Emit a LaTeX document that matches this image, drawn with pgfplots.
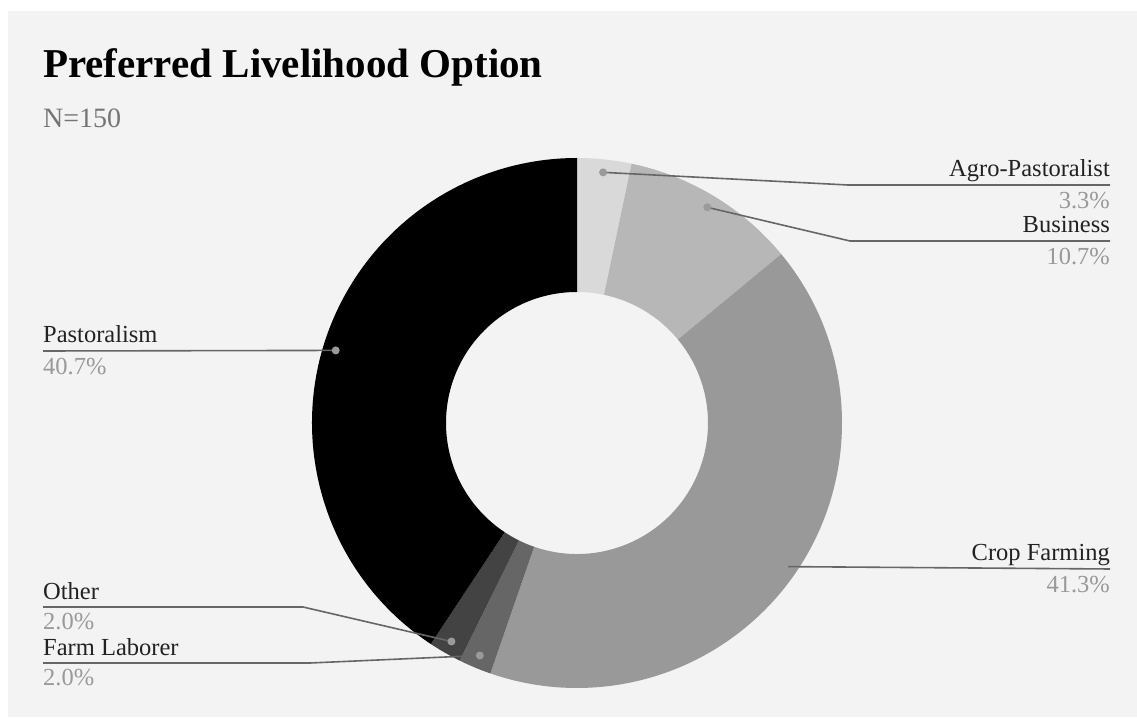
\documentclass[border=0pt]{standalone}
\usepackage{pgfplots}
\pgfplotsset{compat=1.18}
\usepackage{fontspec}
\setmainfont{Liberation Serif}
\definecolor{bg}{HTML}{F3F3F3}
\definecolor{cAgro}{HTML}{D9D9D9}
\definecolor{cBus}{HTML}{B7B7B7}
\definecolor{cCrop}{HTML}{999999}
\definecolor{cFarm}{HTML}{666666}
\definecolor{cOther}{HTML}{434343}
\definecolor{cPast}{HTML}{000000}
\definecolor{leadc}{HTML}{666666}
\definecolor{dotc}{HTML}{9A9A9A}
\definecolor{labc}{HTML}{222222}
\definecolor{pctc}{HTML}{999999}
\definecolor{subc}{HTML}{757575}
% #1 cumulative share before the slice (%), #2 share (%), #3 colour
\newcommand{\seg}[3]{%
  \fill[#3] ([shift={({90-3.6*(#1)}:265pt)}]C)
    arc[start angle={90-3.6*(#1)}, end angle={90-3.6*(#1+#2)}, radius=265pt]
    -- ([shift={({90-3.6*(#1+#2)}:131pt)}]C)
    arc[start angle={90-3.6*(#1+#2)}, end angle={90-3.6*(#1)}, radius=131pt]
    -- cycle;}
% #1 cumulative, #2 share, #3 bend point, #4 end point
\newcommand{\leader}[4]{%
  \draw[leadc, line width=1.6pt] ([shift={({90-3.6*(#1+0.5*#2)}:252pt)}]C)
    -- (axis cs:#3) -- (axis cs:#4);
  \fill[dotc] ([shift={({90-3.6*(#1+0.5*#2)}:252pt)}]C) circle[radius=4pt];}
\newcommand{\lab}[4]{% #1 x, #2 baseline y, #3 anchor, #4 text
  \node[anchor=#3, inner sep=0pt, text=labc, font=\fontsize{24.5}{28}\selectfont] at (axis cs:#1,#2) {#4};}
\newcommand{\pct}[4]{%
  \node[anchor=#3, inner sep=0pt, text=pctc, font=\fontsize{24.5}{28}\selectfont] at (axis cs:#1,#2) {#4};}
\begin{document}
\begin{tikzpicture}
\begin{axis}[
  x=1pt, y=1pt,
  xmin=0, xmax=1137, ymin=0, ymax=717,
  hide axis, clip=false,
]
\fill[white] (axis cs:0,0) rectangle (axis cs:1137,717);
\fill[bg] (axis cs:8,0) rectangle (axis cs:1137,706);
\coordinate (C) at (axis cs:577,294);
% slices: Agro-Pastoralist 3.3, Business 10.7, Crop Farming 41.3,
% Farm Laborer 2.0, Other 2.0, Pastoralism 40.7
\seg{0}{3.3}{cAgro}
\seg{3.3}{10.7}{cBus}
\seg{14.0}{41.3}{cCrop}
\seg{55.3}{2.0}{cFarm}
\seg{57.3}{2.0}{cOther}
\seg{59.3}{40.7}{cPast}
% leaders
\leader{0}{3.3}{848,532}{1110,532}
\leader{3.3}{10.7}{850,476}{1110,476}
\leader{14.0}{41.3}{1110,148}{1110,148}
\leader{55.3}{2.0}{310,54}{43,54}
\leader{57.3}{2.0}{303,110}{43,110}
\leader{59.3}{40.7}{43,366}{43,366}
% labels
\lab{1110}{540}{base east}{Agro-Pastoralist}
\pct{1110}{508}{base east}{3.3\%}
\lab{1110}{484}{base east}{Business}
\pct{1110}{452}{base east}{10.7\%}
\lab{1110}{156}{base east}{Crop Farming}
\pct{1110}{124}{base east}{41.3\%}
\lab{43}{374}{base west}{Pastoralism}
\pct{43}{342}{base west}{40.7\%}
\lab{43}{117}{base west}{Other}
\pct{43}{87}{base west}{2.0\%}
\lab{43}{61}{base west}{Farm Laborer}
\pct{43}{31}{base west}{2.0\%}
% title
\node[anchor=base west, inner sep=0pt, font=\fontsize{41}{45}\selectfont\bfseries] at (axis cs:43,639) {Preferred Livelihood Option};
\node[anchor=base west, inner sep=0pt, text=subc, font=\fontsize{28}{32}\selectfont] at (axis cs:43,589) {N=150};
\end{axis}
\end{tikzpicture}
\end{document}
